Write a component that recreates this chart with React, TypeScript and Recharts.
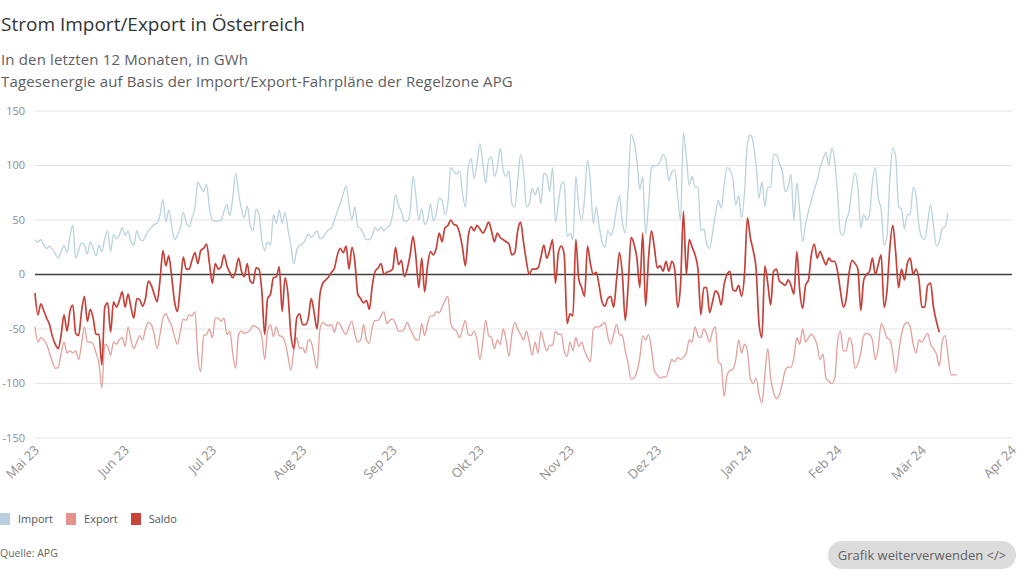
import React from 'react';
import { LineChart, Line, XAxis, YAxis, CartesianGrid, ReferenceLine } from 'recharts';

// x axis: days since 1 May 2023, ticks on month starts
const monthTicks = [0, 31, 61, 92, 123, 153, 184, 214, 245, 276, 305, 336];
const monthLabels = ['Mai 23', 'Jun 23', 'Jul 23', 'Aug 23', 'Sep 23', 'Okt 23', 'Nov 23', 'Dez 23', 'Jan 24', 'Feb 24', 'Mär 24', 'Apr 24'];
const yTicks = [-150, -100, -50, 0, 50, 100, 150];

// daily energy in GWh
const importValues = [
  32, 30, 32, 27, 24, 26, 23, 19, 15, 21, 27, 20, 35, 45, 15, 22, 29, 27, 19, 30,
  24, 17, 27, 21, 33, 40, 21, 37, 33, 36, 43, 36, 40, 30, 27, 40, 33, 31,
  35, 40, 43, 46, 47, 55, 69, 48, 59, 45, 32, 36, 43, 57, 48, 44, 52, 61, 85, 80,
  76, 83, 61, 50, 49, 49, 50, 58, 64, 54, 70, 93, 75, 60, 52, 63, 45, 40, 60, 55,
  32, 22, 30, 27, 55, 47, 59, 47, 57, 41, 27, 10, 22, 27, 28, 32, 37, 34, 37, 40,
  33, 34, 38, 41, 43, 50, 58, 65, 74, 81, 64, 50, 62, 44, 42, 37, 32, 32, 36, 43,
  40, 44, 40, 43, 45, 55, 73, 63, 58, 49, 49, 57, 90, 72, 50, 60, 46, 50, 65, 49,
  56, 70, 68, 55, 65, 98, 95, 92, 95, 75, 62, 98, 106, 88, 102, 120, 102, 84, 105,
  108, 90, 98, 116, 96, 90, 95, 65, 62, 85, 110, 95, 62, 65, 79, 73, 80, 65, 93, 91,
  76, 98, 48, 65, 83, 85, 35, 38, 32, 90, 62, 50, 70, 105, 85, 47, 62, 45, 30, 25,
  40, 36, 43, 60, 72, 48, 38, 80, 128, 122, 105, 78, 90, 37, 64, 98, 100, 100, 104, 110,
  105, 86, 94, 96, 72, 50, 130, 108, 82, 90, 80, 80, 40, 42, 28, 24, 38, 55, 68, 61,
  82, 98, 96, 88, 64, 72, 52, 75, 120, 128, 121, 100, 70, 85, 62, 80, 80, 110, 110, 102,
  95, 76, 80, 92, 50, 84, 58, 30, 46, 58, 68, 78, 86, 98, 106, 112, 100, 116, 105,
  75, 38, 36, 50, 58, 80, 93, 80, 43, 55, 50, 55, 85, 98, 70, 60, 27, 35, 88, 116,
  108, 62, 60, 42, 55, 55, 80, 72, 45, 34, 32, 48, 64, 45, 26, 30, 42, 44, 57,
];

const exportValues = [
  -48, -62, -58, -60, -64, -72, -80, -86, -85, -72, -62, -72, -70, -72, -70, -78, -64, -48, -62, -62,
  -64, -72, -82, -104, -64, -66, -74, -62, -64, -60, -58, -66, -48, -60, -68, -62, -56, -60,
  -50, -44, -46, -55, -68, -55, -40, -36, -42, -47, -57, -64, -52, -41, -42, -37, -38, -34, -75, -89,
  -56, -55, -50, -58, -40, -40, -43, -40, -55, -52, -72, -86, -55, -52, -54, -53, -51, -47, -48, -50,
  -57, -78, -52, -46, -57, -48, -56, -57, -62, -75, -88, -70, -58, -68, -67, -72, -60, -62, -75, -86,
  -50, -44, -46, -47, -46, -53, -44, -46, -52, -55, -48, -43, -55, -62, -60, -46, -60, -63, -48, -42,
  -42, -38, -34, -45, -42, -41, -45, -52, -52, -50, -44, -50, -55, -60, -60, -45, -56, -45, -38, -38,
  -34, -35, -30, -24, -20, -45, -50, -52, -58, -50, -42, -55, -56, -52, -60, -78, -62, -42, -56,
  -58, -68, -60, -64, -50, -60, -75, -55, -44, -50, -55, -60, -52, -62, -74, -62, -72, -52, -62, -70,
  -65, -65, -52, -55, -55, -70, -75, -62, -70, -58, -66, -62, -70, -76, -80, -50, -48, -48, -46, -44,
  -57, -64, -55, -46, -55, -56, -70, -82, -96, -95, -89, -76, -56, -60, -55, -68, -88, -92, -95, -94,
  -94, -86, -78, -80, -76, -78, -76, -72, -60, -62, -48, -56, -58, -50, -55, -62, -52, -48, -80, -83,
  -112, -92, -88, -87, -78, -60, -72, -64, -70, -95, -100, -95, -110, -118, -92, -68, -95, -108, -114, -110,
  -100, -88, -85, -85, -76, -58, -64, -50, -62, -58, -55, -58, -65, -78, -73, -95, -98, -100, -96,
  -62, -52, -70, -70, -58, -64, -86, -82, -72, -56, -54, -55, -60, -78, -67, -45, -50, -58, -60, -72,
  -90, -72, -55, -46, -44, -48, -64, -72, -60, -62, -58, -54, -64, -68, -73, -84, -62, -56, -75, -92,
  -92, -92,
];

const saldoValues = [
  -17, -37, -27, -33, -40, -46, -57, -64, -68, -55, -37, -52, -34, -28, -54, -56, -34, -20, -43, -32,
  -40, -55, -55, -83, -30, -26, -53, -25, -30, -24, -16, -30, -18, -30, -40, -22, -23, -29,
  -22, -6, -10, -18, -25, -5, 22, 8, 17, -2, -25, -34, -9, 16, 5, 5, 13, 20, 10, 22,
  24, 28, 10, -8, 10, 5, 7, 18, 8, 2, -3, 3, 15, 3, -2, 10, -6, -8, 6, 5,
  -15, -55, -22, -18, -3, -2, 7, -34, -3, -18, -55, -68, -40, -36, -46, -46, -40, -22, -35, -50,
  -18, -8, -5, -2, 2, 6, 18, 24, 20, 26, 5, 25, 12, -18, -22, -26, -24, -32, -10, 3,
  6, 10, 0, 2, 3, 5, 25, 9, 13, -2, 5, 18, 35, 16, -12, 15, -16, 8, 21, 18,
  24, 38, 30, 43, 45, 50, 46, 45, 38, 25, 8, 35, 44, 40, 45, 42, 38, 42, 48,
  40, 30, 38, 34, 32, 30, 28, 18, 20, 40, 48, 30, 12, 0, 5, 5, 6, 16, 27, 15,
  22, 32, -8, 20, 26, 18, -45, -36, -38, 32, -4, -12, -20, 26, 10, 0, 2, -10, -25, -29,
  -22, -20, -30, -5, 20, 0, -42, -10, 34, 28, 15, -12, 38, -29, 15, 40, 25, 6, 8, 3,
  12, 3, 12, 5, -30, -10, 58, 0, 32, 25, 18, 5, -37, -12, -12, -35, -25, -15, -18, -28,
  -9, 0, 3, -14, -15, -10, -20, 0, 52, 34, 22, 5, -45, -58, 8, -8, -28, 3, 5, -6,
  -8, -10, -5, -10, -18, 21, -15, -31, -10, -5, 18, 28, 15, 21, 15, 9, 15, 12, 12,
  3, -15, -30, -22, 2, 13, 10, 5, -33, -5, 0, 3, 15, 0, 9, 18, -30, -15, 25, 45,
  20, -12, 5, -5, 10, 15, 0, 5, -5, -30, -30, -10, -8, -30, -43, -53,
];

const data = exportValues.map((value, day) => ({
  day,
  import: importValues[day] ?? null,
  export: value,
  saldo: saldoValues[day] ?? null,
}));

const FONT = '"Open Sans", sans-serif';

function MonthTick(props: any) {
  const { x, y, payload } = props;
  const idx = monthTicks.indexOf(payload.value);
  const tx = x + 5;
  const ty = y + 13;
  return (
    <text x={tx} y={ty} transform={`rotate(-45 ${tx} ${ty})`} textAnchor="end" fill="#8f8f8f" fontSize={13} fontFamily={FONT}>
      {monthLabels[idx]}
    </text>
  );
}

const legend = [
  { name: 'Import', color: '#b9cfdf' },
  { name: 'Export', color: '#e3928e' },
  { name: 'Saldo', color: '#c8433b' },
];

export default function App() {
  return (
    <div style={{ position: 'absolute', left: 0, top: 0, width: 1024, height: 576, background: '#fff', fontFamily: FONT, overflow: 'hidden' }}>
      <div style={{ position: 'absolute', left: 1, top: 11, fontSize: 19, color: '#333', whiteSpace: 'nowrap' }}>
        Strom Import/Export in Österreich
      </div>
      <div style={{ position: 'absolute', left: 1, top: 48, fontSize: 15, lineHeight: '22px', letterSpacing: 0.15, color: '#5e5e5e', whiteSpace: 'nowrap' }}>
        <div>In den letzten 12 Monaten, in GWh</div>
        <div>Tagesenergie auf Basis der Import/Export-Fahrpläne der Regelzone APG</div>
      </div>

      <div style={{ position: 'absolute', left: 0, top: 100 }}>
        <LineChart width={1024} height={400} data={data} margin={{ top: 11, right: 12, bottom: 0, left: 0 }}>
          <CartesianGrid vertical={false} stroke="#e4e4e4" />
          <XAxis
            dataKey="day"
            type="number"
            domain={[0, 336]}
            ticks={monthTicks}
            interval={0}
            axisLine={false}
            tickLine={false}
            tickSize={0}
            tickMargin={0}
            height={62}
            tick={<MonthTick />}
          />
          <YAxis
            domain={[-150, 150]}
            ticks={yTicks}
            width={35}
            axisLine={false}
            tickLine={false}
            tickSize={0}
            tickMargin={10}
            tick={{ fill: '#8c8c8c', fontSize: 11, fontFamily: FONT }}
          />
          <ReferenceLine y={0} stroke="#3f3f3f" strokeWidth={1.6} />
          <Line type="monotone" dataKey="import" stroke="#b9d2dd" strokeWidth={1.3} dot={false} isAnimationActive={false} />
          <Line type="monotone" dataKey="export" stroke="#e3a09c" strokeWidth={1.3} dot={false} isAnimationActive={false} />
          <Line type="monotone" dataKey="saldo" stroke="#c4423a" strokeWidth={1.7} dot={false} isAnimationActive={false} />
        </LineChart>
      </div>

      <div style={{ position: 'absolute', left: 0, top: 511, display: 'flex', alignItems: 'center', fontSize: 11, color: '#555' }}>
        {legend.map((item) => (
          <div key={item.name} style={{ display: 'flex', alignItems: 'center', marginRight: 13 }}>
            <span style={{ display: 'inline-block', width: 10, height: 12, background: item.color, marginRight: 8 }} />
            <span>{item.name}</span>
          </div>
        ))}
      </div>

      <div style={{ position: 'absolute', left: 0, top: 546, fontSize: 10.5, color: '#666' }}>Quelle: APG</div>

      <div
        style={{
          position: 'absolute',
          left: 828,
          top: 541,
          width: 188,
          height: 28,
          borderRadius: 14,
          background: '#dcdcdc',
          color: '#616161',
          fontSize: 13,
          display: 'flex',
          alignItems: 'center',
          justifyContent: 'center',
        }}
      >
        Grafik weiterverwenden &lt;/&gt;
      </div>
    </div>
  );
}
